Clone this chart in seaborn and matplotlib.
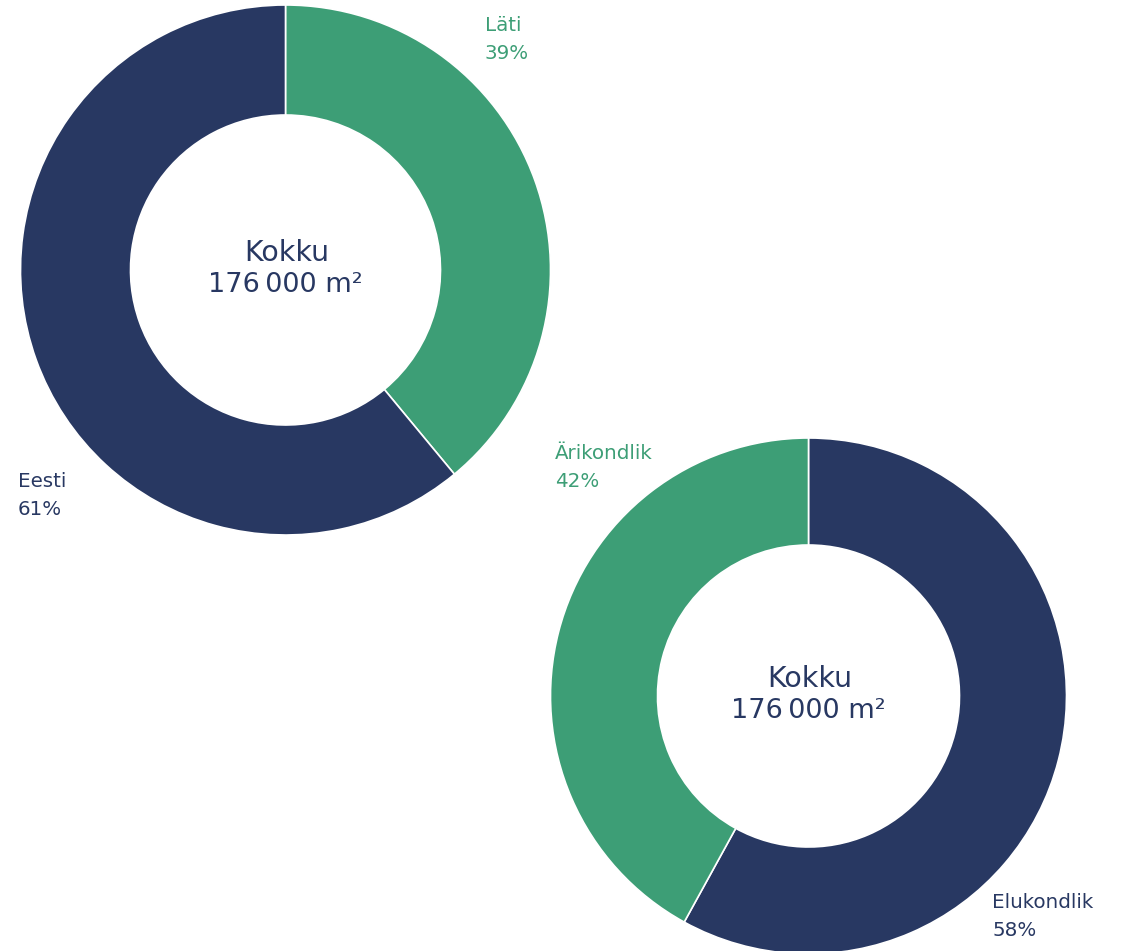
import matplotlib
matplotlib.use("Agg")
import matplotlib.pyplot as plt
import seaborn as sns

# Data
chart1_labels = ["Läti", "Eesti"]
chart1_values = [39, 61]
chart2_labels = ["Elukondlik", "Ärikondlik"]
chart2_values = [58, 42]
center_title = "Kokku"
center_total = "176\u202f000 m²"

sns.set_theme(style="white")
plt.rcParams['font.family'] = ['DejaVu Sans']

NAVY = "#283862"
GREEN = "#3d9e76"

W, H = 1129, 951
fig = plt.figure(figsize=(W / 100, H / 100), dpi=100)
ax = fig.add_axes([0, 0, 1, 1])

def py(y):
    return H - y

# Chart 1
c1 = (285.5, py(270))
ax.pie(chart1_values, colors=[GREEN, NAVY], startangle=90, counterclock=False,
       center=c1, radius=265,
       wedgeprops=dict(width=110, edgecolor="white", linewidth=1.2),
       frame=True)

# Chart 2
c2 = (808.5, py(696))
ax.pie(chart2_values, colors=[NAVY, GREEN], startangle=90, counterclock=False,
       center=c2, radius=258,
       wedgeprops=dict(width=107, edgecolor="white", linewidth=1.2),
       frame=True)
ax.set_xlim(0, W)
ax.set_ylim(0, H)
ax.set_aspect("equal")
ax.axis("off")

# Center texts
for (cx, cy) in [c1, c2]:
    ax.text(cx + 1, cy + 9, center_title, ha="center", va="baseline",
            fontsize=20.5, color=NAVY)
    ax.text(cx, cy - 22, center_total, ha="center", va="baseline",
            fontsize=19.5, color=NAVY)

# Labels
def label(x, y, name, pct, color):
    ax.text(x, py(y), name, ha="left", va="baseline", fontsize=14.3, color=color)
    ax.text(x, py(y + 28), f"{pct}%", ha="left", va="baseline", fontsize=14.3, color=color)

label(485, 31, chart1_labels[0], chart1_values[0], GREEN)
label(18, 487, chart1_labels[1], chart1_values[1], NAVY)
label(555, 459, chart2_labels[1], chart2_values[1], GREEN)
label(992, 908, chart2_labels[0], chart2_values[0], NAVY)

fig.savefig("out.png", dpi=100, facecolor="white")
